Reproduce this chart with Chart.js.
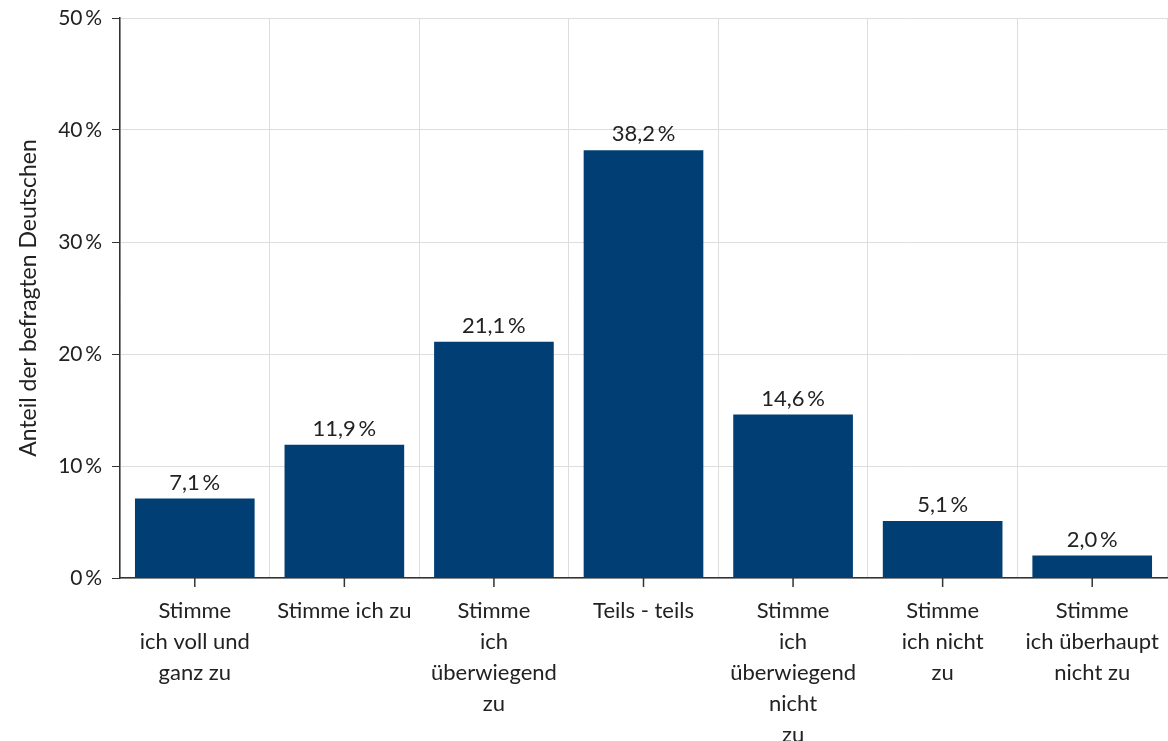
<!DOCTYPE html>
<html>
<head>
<meta charset="utf-8">
<script src="https://cdn.jsdelivr.net/npm/chart.js@4/dist/chart.umd.min.js"></script>
<style>
  html, body { margin: 0; padding: 0; background: #fff; }
  #wrap { width: 1168px; height: 741px; }
</style>
</head>
<body>
<div id="wrap"><canvas id="chart"></canvas></div>
<script>
const categories = [
  ['Stimme', 'ich voll und', 'ganz zu'],
  ['Stimme ich zu'],
  ['Stimme', 'ich', 'überwiegend', 'zu'],
  ['Teils - teils'],
  ['Stimme', 'ich', 'überwiegend', 'nicht', 'zu'],
  ['Stimme', 'ich nicht', 'zu'],
  ['Stimme', 'ich überhaupt', 'nicht zu']
];
const shares = [7.1, 11.9, 21.1, 38.2, 14.6, 5.1, 2.0];
const yTicks = [0, 10, 20, 30, 40, 50];

const fmt = v => v.toFixed(1).replace('.', ',') + '\u2009%';
const FONT = 'Lato, "Open Sans", sans-serif';

// value labels above bars
const valueLabels = {
  id: 'valueLabels',
  afterDatasetsDraw(chart) {
    const ctx = chart.ctx;
    const meta = chart.getDatasetMeta(0);
    ctx.save();
    ctx.font = '22px ' + FONT;
    ctx.fillStyle = '#222';
    ctx.textAlign = 'center';
    ctx.textBaseline = 'bottom';
    meta.data.forEach((bar, i) => {
      ctx.fillText(fmt(shares[i]), bar.x, bar.y - 5);
    });
    ctx.restore();
  }
};

// x tick marks under the bar centres (grid lines sit between categories)
const centreTicks = {
  id: 'centreTicks',
  afterDraw(chart) {
    const x = chart.scales.x;
    const ctx = chart.ctx;
    ctx.save();
    ctx.strokeStyle = '#333';
    ctx.lineWidth = 1.5;
    x.ticks.forEach((t, i) => {
      const px = x.getPixelForTick(i);
      ctx.beginPath();
      ctx.moveTo(px, x.top);
      ctx.lineTo(px, x.top + 9);
      ctx.stroke();
    });
    ctx.restore();
  }
};

new Chart(document.getElementById('chart'), {
  type: 'bar',
  data: {
    labels: categories,
    datasets: [{
      data: shares,
      backgroundColor: '#003e74',
      barPercentage: 0.8,
      categoryPercentage: 1
    }]
  },
  options: {
    responsive: true,
    maintainAspectRatio: false,
    animation: false,
    layout: { padding: { top: 18, right: 1, left: 0, bottom: 0 } },
    plugins: {
      legend: { display: false },
      tooltip: { enabled: false }
    },
    scales: {
      x: {
        afterFit: s => { s.height = 163; s.paddingLeft = 0; s.paddingRight = 0; },
        grid: { offset: true, color: '#ddd', drawTicks: false },
        border: { color: '#333', width: 1.5 },
        ticks: {
          padding: 18,
          maxRotation: 0,
          autoSkip: false,
          color: '#222',
          font: { family: FONT, size: 22, lineHeight: 1.4 }
        }
      },
      y: {
        min: 0,
        max: 50,
        afterFit: s => { s.width = 120; s.paddingTop = 0; s.paddingBottom = 0; },
        afterBuildTicks: s => { s.ticks = yTicks.map(v => ({ value: v })); },
        grid: { color: '#ddd', tickColor: '#333', tickLength: 8 },
        border: { color: '#333', width: 1.5 },
        ticks: {
          padding: 10,
          color: '#222',
          font: { family: FONT, size: 21 },
          callback: v => v + '\u2009%'
        },
        title: {
          display: true,
          text: 'Anteil der befragten Deutschen',
          color: '#222',
          font: { family: FONT, size: 23 },
          padding: { top: 15, bottom: 0 }
        }
      }
    }
  },
  plugins: [valueLabels, centreTicks]
});
</script>
</body>
</html>
